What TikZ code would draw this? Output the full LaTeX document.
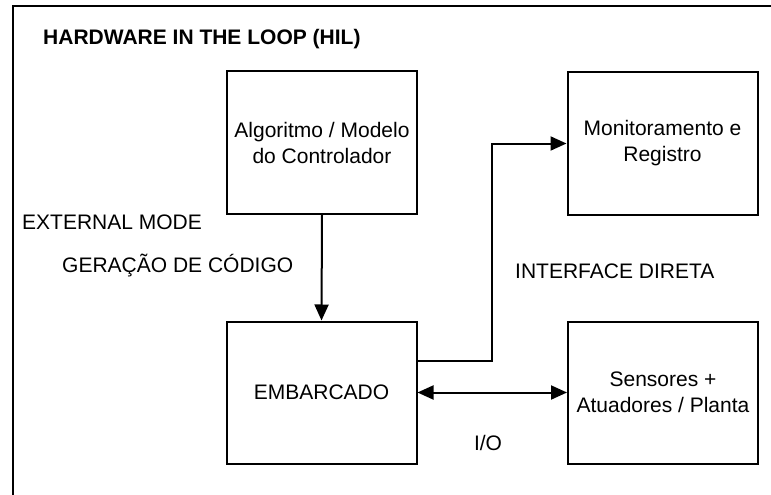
\documentclass[tikz,border=0pt]{standalone}
\usepackage{fontspec}
\setmainfont{Liberation Sans}
\usetikzlibrary{arrows.meta}

\tikzset{
    block/.style={draw, line width=2pt, rectangle, minimum width=190pt, minimum height=142pt, align=center, inner sep=0pt},
    lbl/.style={inner sep=0pt, anchor=west},
    arr/.style={line width=2pt, -{Triangle[length=16pt,width=14pt]}},
    darr/.style={line width=2pt, {Triangle[length=16pt,width=14pt]}-{Triangle[length=16pt,width=14pt]}}
}

\begin{document}
\begin{tikzpicture}[x=1pt, y=-1pt]
        \tikzstyle{every node}=[font=\fontsize{21}{26}\selectfont]
        \useasboundingbox (0,0) rectangle (771,495);
        \clip (0,0) rectangle (771,495);

        % frame
        \draw[line width=2pt] (12.5,6) rectangle (800,530);
        \node[lbl, font=\fontsize{21}{26}\selectfont\bfseries] (title) at (43,39) {HARDWARE IN THE LOOP (HIL)};

        % blocks
        \node[block] (alg) at (322,142.5) {Algoritmo / Modelo\\do Controlador};
        \node[block] (mon) at (662.5,143.5) {Monitoramento e\\Registro};
        \node[block] (emb) at (321.5,392.5) {EMBARCADO};
        \node[block] (sen) at (663,392.5) {Sensores +\\Atuadores / Planta};

        % labels
        \node[lbl] (extmode) at (22,222) {EXTERNAL MODE};
        \node[lbl] (codegen) at (62,266) {GERAÇÃO DE CÓDIGO};
        \node[lbl] (iface) at (515,271) {INTERFACE DIRETA};
        \node[inner sep=0pt] (io) at (488,443) {I/O};

        % connectors
        \coordinate (via) at (492,250);
        \draw[arr] (alg.south) -- (emb.north);
        \draw[arr] ([yshift=31.5pt]emb.east) -| (via) |- (mon.west);
        \draw[darr] (emb.east) -- (sen.west);
\end{tikzpicture}
\end{document}
